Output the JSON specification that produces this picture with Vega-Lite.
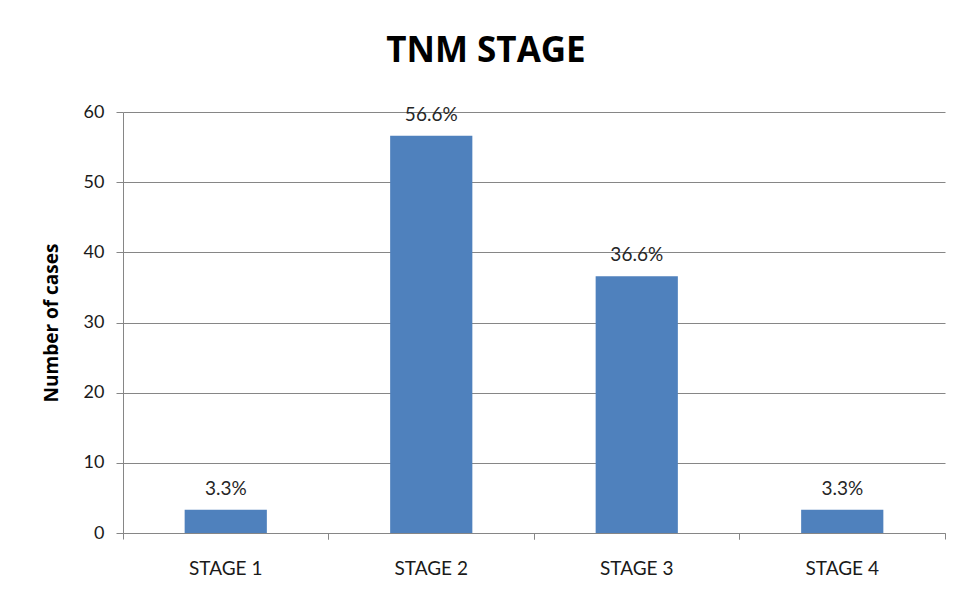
{
  "$schema": "https://vega.github.io/schema/vega-lite/v6.json",
  "autosize": "none",
  "width": 822,
  "height": 421,
  "padding": {"left": 123, "top": 112, "right": 13, "bottom": 71},
  "background": "white",
  "title": {
    "text": "TNM STAGE",
    "font": "Open Sans",
    "fontSize": 35,
    "fontWeight": "bold",
    "color": "#000000",
    "anchor": "middle",
    "frame": "group",
    "dx": -48,
    "offset": 34
  },
  "data": {
    "values": [
      {"stage": "STAGE 1", "cases": 3.3, "label": "3.3%"},
      {"stage": "STAGE 2", "cases": 56.6, "label": "56.6%"},
      {"stage": "STAGE 3", "cases": 36.6, "label": "36.6%"},
      {"stage": "STAGE 4", "cases": 3.3, "label": "3.3%"}
    ]
  },
  "encoding": {
    "y": {
      "field": "cases",
      "type": "quantitative",
      "scale": {"domain": [0, 60]},
      "axis": {
        "title": "Number of cases",
        "titleFont": "Open Sans",
        "titleFontSize": 19,
        "titleFontWeight": "bold",
        "titleColor": "#000000",
        "titlePadding": 22,
        "values": [0, 10, 20, 30, 40, 50, 60],
        "labelFont": "Lato",
        "labelFontSize": 18,
        "labelColor": "#1a1a1a",
        "labelPadding": 12,
        "tickSize": 7,
        "tickColor": "#868686",
        "domainColor": "#868686",
        "gridColor": "#868686",
        "gridWidth": 1
      }
    }
  },
  "layer": [
    {
      "mark": {"type": "bar", "color": "#4F81BD"},
      "encoding": {
        "x": {
          "field": "stage",
          "type": "nominal",
          "sort": null,
          "scale": {"paddingInner": 0.6, "paddingOuter": 0.3},
          "axis": {
            "orient": "bottom",
            "title": null,
            "labelAngle": 0,
            "labelFont": "Lato",
            "labelFontSize": 19,
            "labelColor": "#1a1a1a",
            "labelPadding": 20,
            "ticks": true,
            "bandPosition": -0.75,
            "tickSize": 6,
            "tickWidth": 1,
            "tickColor": "#868686",
            "domainColor": "#868686",
            "grid": false
          }
        }
      }
    },
    {
      "mark": {
        "type": "text",
        "baseline": "alphabetic",
        "dy": -15,
        "font": "Lato",
        "fontSize": 19,
        "color": "#262626"
      },
      "encoding": {
        "x": {
          "field": "stage",
          "type": "nominal",
          "sort": null,
          "axis": {
            "orient": "bottom",
            "title": null,
            "labels": false,
            "domain": false,
            "ticks": true,
            "bandPosition": 1.75,
            "tickSize": 6,
            "tickWidth": 1,
            "tickColor": "#868686",
            "grid": false
          }
        },
        "text": {"field": "label"}
      }
    }
  ],
  "resolve": {"axis": {"x": "independent"}},
  "config": {"view": {"stroke": null}}
}
